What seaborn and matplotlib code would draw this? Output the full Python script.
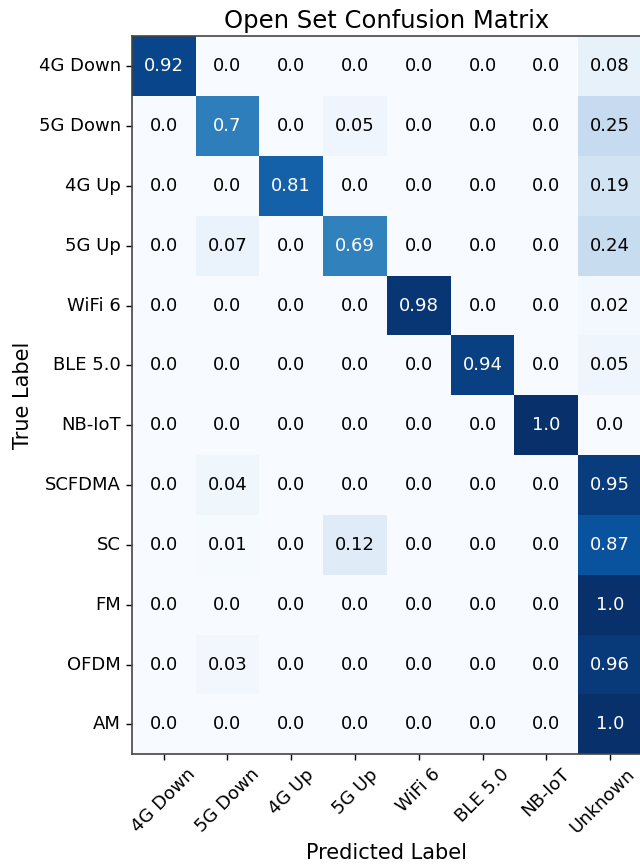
import numpy as np
import pandas as pd
import matplotlib
matplotlib.use("Agg")
import matplotlib.pyplot as plt
import matplotlib.transforms as mtransforms
import seaborn as sns

true_labels = ["4G Down", "5G Down", "4G Up", "5G Up", "WiFi 6", "BLE 5.0",
               "NB-IoT", "SCFDMA", "SC", "FM", "OFDM", "AM"]
pred_labels = ["4G Down", "5G Down", "4G Up", "5G Up", "WiFi 6", "BLE 5.0",
               "NB-IoT", "Unknown"]

# rows = true label, columns = predicted label
row_4g_down = [0.92, 0.0, 0.0, 0.0, 0.0, 0.0, 0.0, 0.08]
row_5g_down = [0.0, 0.7, 0.0, 0.05, 0.0, 0.0, 0.0, 0.25]
row_4g_up = [0.0, 0.0, 0.81, 0.0, 0.0, 0.0, 0.0, 0.19]
row_5g_up = [0.0, 0.07, 0.0, 0.69, 0.0, 0.0, 0.0, 0.24]
row_wifi6 = [0.0, 0.0, 0.0, 0.0, 0.98, 0.0, 0.0, 0.02]
row_ble = [0.0, 0.0, 0.0, 0.0, 0.0, 0.94, 0.0, 0.05]
row_nbiot = [0.0, 0.0, 0.0, 0.0, 0.0, 0.0, 1.0, 0.0]
row_scfdma = [0.0, 0.04, 0.0, 0.0, 0.0, 0.0, 0.0, 0.95]
row_sc = [0.0, 0.01, 0.0, 0.12, 0.0, 0.0, 0.0, 0.87]
row_fm = [0.0, 0.0, 0.0, 0.0, 0.0, 0.0, 0.0, 1.0]
row_ofdm = [0.0, 0.03, 0.0, 0.0, 0.0, 0.0, 0.0, 0.96]
row_am = [0.0, 0.0, 0.0, 0.0, 0.0, 0.0, 0.0, 1.0]

cm = pd.DataFrame([row_4g_down, row_5g_down, row_4g_up, row_5g_up, row_wifi6,
                   row_ble, row_nbiot, row_scfdma, row_sc, row_fm, row_ofdm, row_am],
                  index=true_labels, columns=pred_labels)

fig = plt.figure(figsize=(6.4, 8.65), dpi=100)
ax = fig.add_axes([0.206, 0.128, 0.797, 0.830])

sns.heatmap(cm, cmap="Blues", vmin=0, vmax=1, cbar=False, annot=False, ax=ax)

# cell labels, white on dark cells
for i in range(cm.shape[0]):
    for j in range(cm.shape[1]):
        v = cm.iloc[i, j]
        ax.text(j + 0.5, i + 0.5, str(v), ha="center", va="center",
                fontsize=13, color="white" if v > 0.5 else "black")

for s in ax.spines.values():
    s.set_visible(True)
    s.set_color("#444444")
    s.set_linewidth(1.2)

ax.tick_params(axis="both", length=4.5, width=1.0, labelsize=13)
ax.set_yticklabels(true_labels, rotation=0)
xlabs = ax.set_xticklabels(pred_labels, rotation=45, ha="center")
# last label sits a bit left so it stays inside the figure
xlabs[-1].set_transform(xlabs[-1].get_transform() +
                        mtransforms.ScaledTranslation(-8 / 100, 0, fig.dpi_scale_trans))

ax.set_title("Open Set Confusion Matrix", fontsize=17.5)
ax.set_xlabel("Predicted Label", fontsize=15)
ax.set_ylabel("True Label", fontsize=15)

fig.savefig("out.png", dpi=100)
